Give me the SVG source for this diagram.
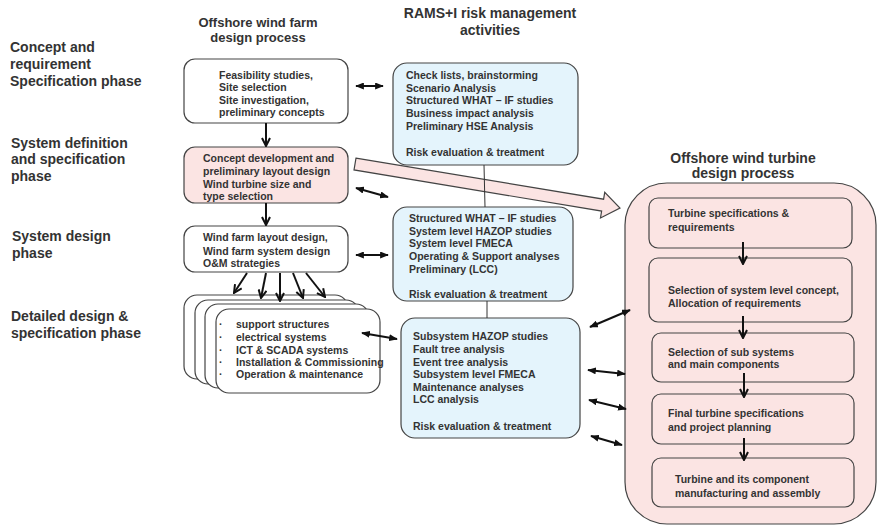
<svg xmlns="http://www.w3.org/2000/svg" width="877" height="526" viewBox="0 0 877 526">
<defs>
<style>
text{font-family:"Liberation Sans",Arial,sans-serif;font-weight:bold;fill:#333}
.t13{font-size:13px}
.t14{font-size:14px}
.t10{font-size:10.5px}
.wb{fill:#fff;stroke:#444;stroke-width:1.2}
.pk{fill:#fbe4e3;stroke:#444;stroke-width:1.2}
.bl{fill:#e4f4fc;stroke:#444;stroke-width:1.2}
.dn{stroke:#111;stroke-width:2;fill:none;marker-end:url(#chev)}
.dbl{stroke:#111;stroke-width:2;fill:none;marker-start:url(#tri);marker-end:url(#tri)}
.thin{stroke:#333;stroke-width:1;fill:none}
</style>
<marker id="chev" viewBox="0 0 10 10" refX="9" refY="5" markerWidth="10" markerHeight="10" markerUnits="userSpaceOnUse" orient="auto">
<path d="M1,1 L9,5 L1,9" fill="none" stroke="#111" stroke-width="2"/>
</marker>
<marker id="tri" viewBox="0 0 10 8" refX="9" refY="4" markerWidth="9" markerHeight="7" markerUnits="userSpaceOnUse" orient="auto-start-reverse">
<path d="M0,0 L10,4 L0,8 z" fill="#111"/>
</marker>
</defs>

<g id="titles">
<text class="t13" x="258" y="27" text-anchor="middle">Offshore wind farm</text>
<text class="t13" x="258" y="42" text-anchor="middle">design process</text>
<text class="t14" x="490" y="18" text-anchor="middle">RAMS+I risk management</text>
<text class="t14" x="490" y="35" text-anchor="middle">activities</text>
</g>

<g id="phase-labels">
<text class="t14" x="10" y="52">Concept and</text>
<text class="t14" x="10" y="69">requirement</text>
<text class="t14" x="10" y="86">Specification phase</text>
<text class="t14" x="11" y="148">System definition</text>
<text class="t14" x="11" y="164">and specification</text>
<text class="t14" x="11" y="181">phase</text>
<text class="t14" x="12" y="241">System design</text>
<text class="t14" x="12" y="258">phase</text>
<text class="t14" x="11" y="321">Detailed design &amp;</text>
<text class="t14" x="11" y="338">specification phase</text>
</g>

<g id="turbine-container">
<rect class="pk" x="625" y="183" width="251" height="341" rx="42" ry="42"/>
<text class="t14" x="743" y="163" text-anchor="middle">Offshore wind turbine</text>
<text class="t14" x="743" y="178" text-anchor="middle">design process</text>
</g>

<g id="pink-arrow">
<polygon transform="translate(355,164) rotate(9.43)" points="0,-6 251,-6 251,-13 268.6,0 251,13 251,6 0,6" fill="#fbe4e3" stroke="#444" stroke-width="1.2"/>
</g>

<g id="wf1">
<rect class="wb" x="184" y="59" width="164" height="64" rx="11"/>
<text class="t10" x="219" y="79">Feasibility studies,</text>
<text class="t10" x="219" y="91">Site selection</text>
<text class="t10" x="219" y="104">Site investigation,</text>
<text class="t10" x="219" y="116">preliminary concepts</text>
</g>

<g id="wf2">
<rect class="pk" x="184" y="147" width="164" height="56" rx="11"/>
<text class="t10" x="203" y="162">Concept development and</text>
<text class="t10" x="203" y="175">preliminary layout design</text>
<text class="t10" x="203" y="188">Wind turbine size and</text>
<text class="t10" x="203" y="200">type selection</text>
</g>

<g id="wf3">
<rect class="wb" x="184" y="226" width="164" height="46" rx="11"/>
<text class="t10" x="203" y="241">Wind farm layout design,</text>
<text class="t10" x="203" y="255">Wind farm system design</text>
<text class="t10" x="203" y="267">O&amp;M strategies</text>
</g>

<g id="wf4-stack">
<rect class="wb" x="184" y="295" width="164" height="84" rx="13"/>
<rect class="wb" x="195" y="300" width="164" height="84" rx="13"/>
<rect class="wb" x="205" y="304" width="164" height="84" rx="13"/>
<rect class="wb" x="216" y="309" width="164" height="84" rx="13"/>
<text class="t10" x="219" y="328">·</text>
<text class="t10" x="219" y="341">·</text>
<text class="t10" x="219" y="354">·</text>
<text class="t10" x="219" y="366">·</text>
<text class="t10" x="219" y="378">·</text>
<text class="t10" x="236" y="328">support structures</text>
<text class="t10" x="236" y="341">electrical systems</text>
<text class="t10" x="236" y="354">ICT &amp; SCADA systems</text>
<text class="t10" x="236" y="366">Installation &amp; Commissioning</text>
<text class="t10" x="236" y="378">Operation &amp; maintenance</text>
</g>

<g id="rams1">
<rect class="bl" x="393" y="63" width="185" height="102" rx="14"/>
<text class="t10" x="406" y="79">Check lists, brainstorming</text>
<text class="t10" x="406" y="92">Scenario Analysis</text>
<text class="t10" x="406" y="104">Structured WHAT – IF studies</text>
<text class="t10" x="406" y="117">Business impact analysis</text>
<text class="t10" x="406" y="130">Preliminary HSE Analysis</text>
<text class="t10" x="406" y="156">Risk evaluation &amp; treatment</text>
</g>

<g id="rams2">
<rect class="bl" x="393" y="207" width="180" height="94" rx="14"/>
<text class="t10" x="409" y="222">Structured WHAT – IF studies</text>
<text class="t10" x="409" y="234.5">System level HAZOP studies</text>
<text class="t10" x="409" y="247">System level FMECA</text>
<text class="t10" x="409" y="260">Operating &amp; Support analyses</text>
<text class="t10" x="409" y="273">Preliminary (LCC)</text>
<text class="t10" x="409" y="298">Risk evaluation &amp; treatment</text>
</g>

<g id="rams3">
<rect class="bl" x="401" y="318" width="179" height="120" rx="14"/>
<text class="t10" x="413" y="340">Subsystem HAZOP studies</text>
<text class="t10" x="413" y="353">Fault tree analysis</text>
<text class="t10" x="413" y="365.5">Event tree analysis</text>
<text class="t10" x="413" y="378">Subsystem level FMECA</text>
<text class="t10" x="413" y="390.5">Maintenance analyses</text>
<text class="t10" x="413" y="403">LCC analysis</text>
<text class="t10" x="413" y="430">Risk evaluation &amp; treatment</text>
</g>

<g id="tb1">
<rect class="pk" x="649" y="198" width="203" height="50" rx="9"/>
<text class="t10" x="668" y="217">Turbine specifications &amp;</text>
<text class="t10" x="668" y="231">requirements</text>
</g>
<g id="tb2">
<rect class="pk" x="649" y="258" width="203" height="64" rx="9"/>
<text class="t10" x="668" y="294">Selection of system level concept,</text>
<text class="t10" x="668" y="307">Allocation of requirements</text>
</g>
<g id="tb3">
<rect class="pk" x="652" y="333" width="202" height="49" rx="9"/>
<text class="t10" x="668" y="356">Selection of sub systems</text>
<text class="t10" x="668" y="368">and main components</text>
</g>
<g id="tb4">
<rect class="pk" x="652" y="394" width="202" height="50" rx="9"/>
<text class="t10" x="668" y="417">Final turbine specifications</text>
<text class="t10" x="668" y="431">and project planning</text>
</g>
<g id="tb5">
<rect class="pk" x="652" y="458" width="202" height="49" rx="9"/>
<text class="t10" x="675" y="483">Turbine and its component</text>
<text class="t10" x="675" y="497">manufacturing and assembly</text>
</g>

<g id="connectors">
<line class="dn" x1="266" y1="123" x2="266" y2="146"/>
<line class="dn" x1="266" y1="203" x2="266" y2="225"/>
<line class="dn" x1="247" y1="273" x2="234" y2="293"/>
<line class="dn" x1="266" y1="273" x2="261" y2="298"/>
<line class="dn" x1="280" y1="273" x2="280" y2="301"/>
<line class="dn" x1="293" y1="273" x2="303" y2="298"/>
<line class="dn" x1="306" y1="273" x2="325" y2="297"/>
<line class="dn" x1="743" y1="242" x2="743" y2="264"/>
<line class="dn" x1="743" y1="316" x2="743" y2="338"/>
<line class="dn" x1="744" y1="373" x2="744" y2="397"/>
<line class="dn" x1="744" y1="438" x2="744" y2="460"/>
<line class="thin" x1="484" y1="165" x2="485" y2="207"/>
<line class="thin" x1="487" y1="301" x2="487" y2="318"/>
<line class="dbl" x1="356" y1="86" x2="383" y2="86"/>
<line class="dbl" x1="356" y1="188" x2="388" y2="197"/>
<line class="dbl" x1="356" y1="255" x2="388" y2="255"/>
<line class="dbl" x1="362" y1="333" x2="397" y2="339"/>
<line class="dbl" x1="590" y1="327" x2="630" y2="310"/>
<line class="dbl" x1="588" y1="370" x2="625" y2="374"/>
<line class="dbl" x1="589" y1="400" x2="626" y2="409"/>
<line class="dbl" x1="591" y1="436" x2="622" y2="445"/>
</g>
</svg>
